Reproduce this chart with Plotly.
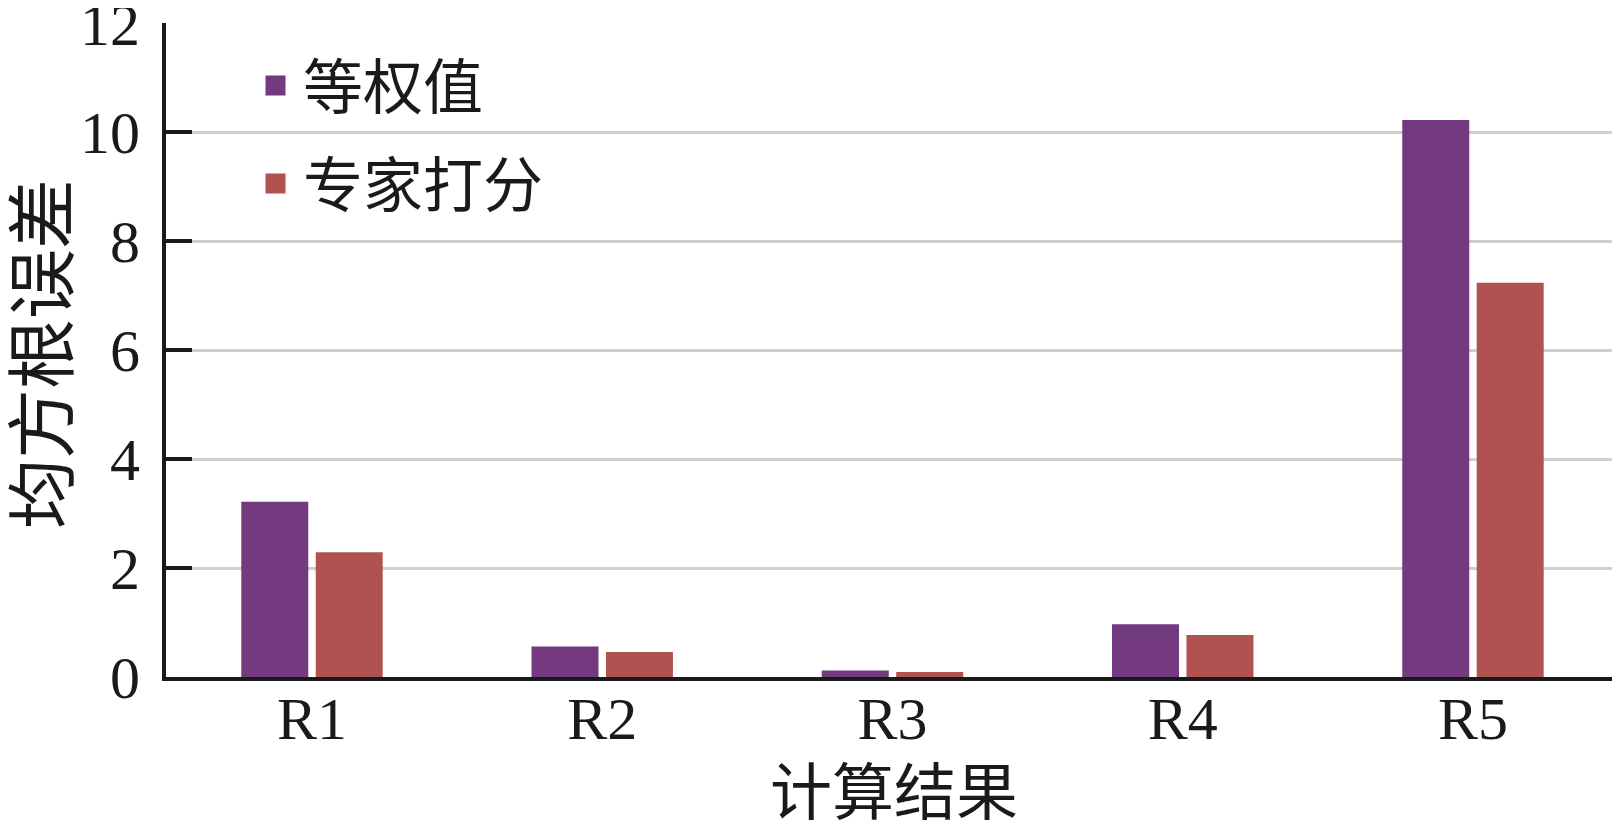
import plotly.graph_objects as go

categories = ["R1", "R2", "R3", "R4", "R5"]
equal_weight = [3.22, 0.56, 0.12, 0.97, 10.23]
expert_score = [2.29, 0.46, 0.09, 0.77, 7.24]
series_names = ["等权值", "专家打分"]
y_ticks = [0, 2, 4, 6, 8, 10, 12]
x_title = "计算结果"
y_title = "均方根误差"

colors = ["#733a80", "#b05350"]

fig = go.Figure()
for i, (name, vals) in enumerate(zip(series_names, [equal_weight, expert_score])):
    fig.add_trace(go.Bar(
        x=categories, y=vals, name=name, showlegend=False,
        marker=dict(color=colors[i], line=dict(width=0)),
    ))
    # legend proxy with a larger square swatch
    fig.add_trace(go.Scatter(
        x=[None], y=[None], name=name, mode="markers",
        marker=dict(symbol="square", size=16, color=colors[i],
                    line=dict(color=colors[i], width=4)),
        legendgroup=name, showlegend=True,
    ))

font_main = "Liberation Serif, Noto Sans CJK SC, serif"
cjk = "Noto Sans CJK SC, sans-serif"

# page body has an 8px margin, so the figure is sized to fit the window
W, H = 1604, 814
T, B, L = 15, 145, 158
plot_h = H - T - B
plot_w = W - L

fig.update_layout(
    width=W, height=H,
    margin=dict(l=L, r=0, t=T, b=B, autoexpand=False),
    paper_bgcolor="white", plot_bgcolor="white",
    barmode="group", bargap=0.487, bargroupgap=0.10,
    font=dict(family=font_main, size=60, color="#1a1a1a"),
    showlegend=True,
    legend=dict(
        x=(240 - L) / plot_w, y=0.974, xanchor="left", yanchor="top",
        font=dict(family=cjk, size=60, color="#1a1a1a"),
        bgcolor="rgba(0,0,0,0)", tracegroupgap=17, itemwidth=45,
        traceorder="grouped", itemsizing="trace",
    ),
    xaxis=dict(
        type="category", range=[-0.503, 4.479], automargin=False,
        showline=True, linecolor="#1a1a1a", linewidth=4,
        ticks="", showgrid=False, zeroline=False,
        tickfont=dict(family=font_main, size=60),
        ticklabelstandoff=-14,
    ),
    yaxis=dict(
        range=[0, 12.01], tickvals=y_ticks, automargin=False,
        showline=True, linecolor="#1a1a1a", linewidth=4,
        ticks="inside", ticklen=26, tickwidth=4, tickcolor="#1a1a1a",
        showgrid=True, gridcolor="#d3cecb", gridwidth=3,
        zeroline=False, ticklabeloverflow="allow",
        tickfont=dict(family=font_main, size=60),
        ticklabelstandoff=10,
    ),
    annotations=[
        dict(text=x_title, xref="paper", yref="paper",
             x=(886 - L) / plot_w, y=-(780 - (H - B)) / plot_h,
             xanchor="center", yanchor="middle", showarrow=False,
             font=dict(family=cjk, size=62, color="#1a1a1a")),
        dict(text=y_title, xref="paper", yref="paper",
             x=-(L - 29) / plot_w, y=(H - B - 346) / plot_h,
             xanchor="center", yanchor="middle", showarrow=False, textangle=-90,
             font=dict(family=cjk, size=70, color="#1a1a1a")),
    ],
)

fig.write_html("out.html")
